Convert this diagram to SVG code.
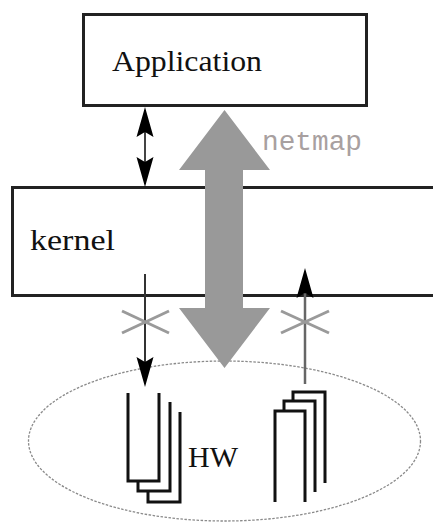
<svg xmlns="http://www.w3.org/2000/svg" width="433" height="524" viewBox="0 0 433 524">
  <style>
    .box { fill: #ffffff; stroke: #222222; stroke-width: 3; }
    .label { font-family: "Liberation Serif", "DejaVu Serif", serif; fill: #111111; }
    .buf { fill: #ffffff; stroke: #111111; stroke-width: 3; stroke-linejoin: miter; }
    .cross { stroke: #9a9a9a; stroke-width: 3; }
  </style>
  <defs>
    <path id="head" d="M0,0 L-8.5,30 L0,25 L8.5,30 Z" fill="#000000"/>
  </defs>

  <rect width="433" height="524" fill="#ffffff"/>

  <!-- application layer -->
  <g id="application">
    <rect class="box" x="83.5" y="14.5" width="283" height="91"/>
    <text class="label" x="112" y="71" font-size="29" textLength="150" lengthAdjust="spacingAndGlyphs">Application</text>
  </g>

  <!-- kernel layer, running off the right edge -->
  <g id="kernel">
    <rect class="box" x="12.5" y="187.5" width="460" height="108"/>
    <text class="label" x="30" y="250" font-size="30" textLength="85" lengthAdjust="spacingAndGlyphs">kernel</text>
  </g>

  <!-- hardware: NIC rings inside a dotted boundary -->
  <g id="hw">
    <ellipse cx="224.5" cy="441" rx="196" ry="80" fill="none" stroke="#8a8a8a" stroke-width="1.3" stroke-dasharray="2.5 1.5"/>
    <!-- rx rings (open at top) -->
    <path class="buf" d="M148,412 V502 H180 V412"/>
    <path class="buf" d="M138,402 V491 H170 V402"/>
    <path class="buf" d="M128,393 V481 H159 V393"/>
    <!-- tx rings (open at bottom) -->
    <path class="buf" d="M293,483 V392 H325 V483"/>
    <path class="buf" d="M284,492 V401 H315 V492"/>
    <path class="buf" d="M275,502 V411 H305 V502"/>
    <text class="label" x="188" y="467" font-size="30">HW</text>
  </g>

  <g id="connectors">
    <!-- syscall path between application and kernel -->
    <line x1="145" y1="110" x2="145" y2="184" stroke="#444444" stroke-width="2"/>
    <use href="#head" transform="translate(145,107)"/>
    <use href="#head" transform="translate(145,187) rotate(180)"/>

    <!-- kernel rx path (blocked) -->
    <line x1="145" y1="274" x2="145" y2="380" stroke="#333333" stroke-width="2"/>
    <use href="#head" transform="translate(145,387) rotate(180)"/>
    <line class="cross" x1="122" y1="311" x2="169" y2="333"/>
    <line class="cross" x1="122" y1="333" x2="169" y2="311"/>

    <!-- kernel tx path (blocked) -->
    <line x1="305" y1="384" x2="305" y2="290" stroke="#666666" stroke-width="2.5"/>
    <use href="#head" transform="translate(305,268)"/>
    <line class="cross" x1="281" y1="311" x2="329" y2="333"/>
    <line class="cross" x1="281" y1="333" x2="329" y2="311"/>

    <!-- netmap direct path -->
    <polygon points="224.5,110 270,170 243,170 243,308 270,308 224.5,368 179,308 205,308 205,170 179,170" fill="#999999"/>
    <text x="262" y="150" font-family="'Liberation Mono', 'DejaVu Sans Mono', monospace" font-size="27" fill="#a8a0a0" textLength="100" lengthAdjust="spacingAndGlyphs">netmap</text>
  </g>
</svg>
